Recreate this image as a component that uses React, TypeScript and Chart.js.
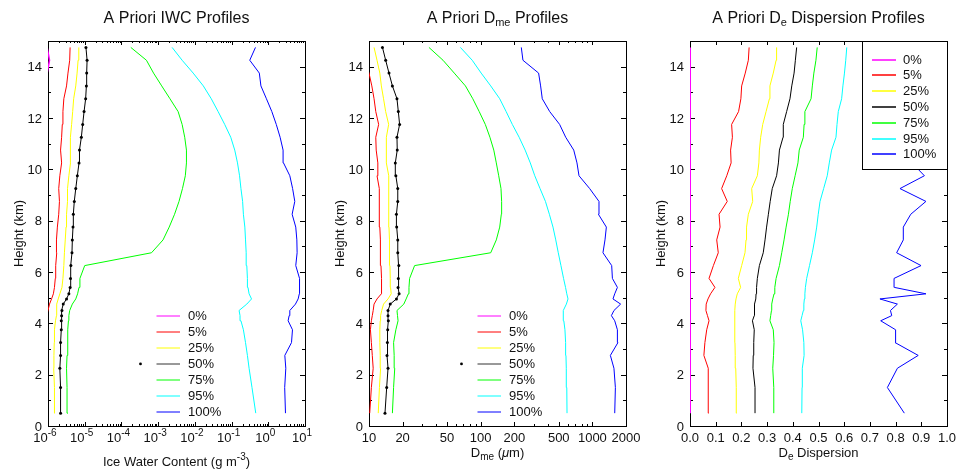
import React, { useEffect, useRef } from "react";
import { Chart, registerables } from "chart.js";

Chart.register(...registerables);

// ---------- data ----------
const HEIGHTS = [0.5, 1.5, 2.25, 2.75, 3.25, 3.75, 4.1, 4.3, 4.5, 4.75, 4.95, 5.15, 5.4, 5.75, 6.25, 6.75, 7.25, 7.75, 8.25, 8.75, 9.25, 9.75, 10.25, 10.75, 11.25, 11.75, 12.25, 12.75, 13.25, 13.75, 14.25, 14.75];

const SERIES_LABELS = ["0%", "5%", "25%", "50%", "75%", "95%", "100%"];
const SERIES_COLORS = ["#ff00ff", "#ff0000", "#ffff00", "#000000", "#00ff00", "#00ffff", "#0000ff"];

// Ice water content (g m^-3)
const IWC_0 = [5e-7, 5e-7, 5e-7, 5e-7, 5e-7, 5e-7, 5e-7, 5e-7, 5e-7, 5e-7, 5e-7, 5e-7, 5e-7, 5e-7, 5e-7, 5e-7, 5e-7, 5e-7, 5e-7, 5e-7, 5e-7, 5e-7, 5e-7, 5e-7, 5e-7, 5e-7, 5e-7, 5e-7, 5e-7, 9.5e-7, 1.1e-6, 9.5e-7];
const IWC_5 = [8e-7, 8e-7, 8e-7, 8e-7, 8e-7, 8e-7, 8.5e-7, 9e-7, 1.0e-6, 1.1e-6, 1.25e-6, 1.4e-6, 1.5e-6, 1.58e-6, 1.62e-6, 1.73e-6, 1.7e-6, 1.8e-6, 1.96e-6, 2.05e-6, 1.96e-6, 2.1e-6, 2.35e-6, 2.2e-6, 2.35e-6, 2.45e-6, 2.55e-6, 2.7e-6, 3.2e-6, 3.5e-6, 3.9e-6, 4.0e-6];
const IWC_25 = [1.55e-6, 1.5e-6, 1.43e-6, 1.45e-6, 1.48e-6, 1.5e-6, 1.6e-6, 1.7e-6, 1.7e-6, 1.75e-6, 1.9e-6, 2.1e-6, 2.4e-6, 2.55e-6, 2.7e-6, 2.8e-6, 2.95e-6, 3.1e-6, 3.2e-6, 3.4e-6, 3.4e-6, 3.7e-6, 4.1e-6, 4.0e-6, 4.15e-6, 4.4e-6, 4.7e-6, 5.0e-6, 5.7e-6, 6.2e-6, 6.6e-6, 6.9e-6];
const IWC_50 = [2.2e-6, 2.2e-6, 2.1e-6, 2.2e-6, 2.2e-6, 2.3e-6, 2.3e-6, 2.35e-6, 2.4e-6, 2.6e-6, 3.2e-6, 3.7e-6, 4.0e-6, 4.1e-6, 4.2e-6, 4.5e-6, 4.6e-6, 4.8e-6, 4.9e-6, 5.2e-6, 5.7e-6, 6.3e-6, 7.0e-6, 7.2e-6, 8.1e-6, 8.8e-6, 9.6e-6, 1.06e-5, 1.11e-5, 1.13e-5, 1.16e-5, 1.08e-5];
const IWC_75 = [3.5e-6, 3.3e-6, 3.2e-6, 3.3e-6, 3.4e-6, 3.5e-6, 3.6e-6, 3.7e-6, 3.9e-6, 4.6e-6, 5.7e-6, 6.4e-6, 7.0e-6, 7.4e-6, 1.0e-5, 6.6e-4, 1.36e-3, 2.0e-3, 2.8e-3, 3.7e-3, 4.6e-3, 5.5e-3, 5.9e-3, 5.9e-3, 5.3e-3, 4.5e-3, 3.5e-3, 2.1e-3, 1.25e-3, 7.5e-4, 4.8e-4, 1.8e-4];
const IWC_95 = [0.456, 0.36, 0.3, 0.27, 0.24, 0.21, 0.18, 0.17, 0.16, 0.26, 0.35, 0.3, 0.28, 0.27, 0.26, 0.25, 0.24, 0.23, 0.21, 0.2, 0.18, 0.165, 0.145, 0.122, 0.095, 0.065, 0.043, 0.028, 0.017, 0.009, 0.0045, 0.0024];
const IWC_100 = [2.94, 2.8, 3.0, 2.82, 4.29, 4.56, 3.47, 3.7, 3.86, 5.5, 6.5, 7.0, 7.0, 7.2, 5.6, 6.1, 6.0, 5.6, 4.46, 5.27, 4.6, 3.86, 2.6, 2.53, 2.1, 1.65, 1.25, 0.89, 0.63, 0.57, 0.313, 0.448];

// Dme (micrometres)
const DME_0 = [5, 5, 5, 5, 5, 5, 5, 5, 5, 5, 5, 5, 5, 5, 5, 5, 5, 5, 5, 5, 5, 5, 5, 5, 5, 5, 5, 5, 5, 5, 5, 5];
const DME_5 = [10.15, 10.5, 10.9, 10.7, 10.5, 10.3, 10.5, 10.7, 10.9, 11.1, 11.8, 12.9, 13.0, 12.9, 12.8, 12.7, 12.6, 12.5, 12.4, 12.4, 12.3, 11.8, 12.0, 11.6, 11.5, 12.2, 11.5, 11.1, 10.6, 10.0, 9.0, 9.0];
const DME_25 = [12.1, 12.4, 12.7, 12.6, 12.5, 12.5, 12.6, 12.7, 13.0, 13.5, 14.8, 15.8, 15.6, 15.5, 15.4, 15.3, 15.2, 15.1, 15.1, 15.1, 15.1, 14.8, 14.3, 14.3, 14.3, 15.0, 14.1, 13.5, 12.9, 12.5, 11.8, 11.1];
const DME_50 = [13.9, 14.4, 14.8, 14.5, 14.6, 14.7, 14.9, 14.8, 14.8, 15.5, 17.6, 18.6, 18.2, 18.3, 18.5, 18.1, 18.1, 17.7, 17.6, 18.1, 18.1, 17.4, 17.2, 17.9, 17.8, 18.8, 18.3, 17.8, 16.2, 15.1, 14.1, 13.2];
const DME_75 = [16.2, 16.6, 17.0, 16.8, 16.6, 17.4, 18.2, 18.0, 17.8, 20.5, 21.5, 22.5, 22.8, 23.1, 25.6, 123, 138, 148, 153, 154, 152, 145, 138, 131, 121, 110, 97, 85, 73, 58, 46, 34.4];
const DME_95 = [593, 590, 584, 580, 576, 568, 555, 548, 550, 585, 605, 590, 575, 552, 523, 495, 470, 444, 412, 380, 340, 305, 278, 250, 221, 192, 169, 148, 123, 101, 84, 65.8];
const DME_100 = [1585, 1607, 1560, 1449, 1694, 1675, 1585, 1480, 1560, 1790, 1529, 1585, 1675, 1511, 1489, 1244, 1297, 1334, 1132, 1146, 946, 759, 728, 681, 577, 509, 415, 356, 344, 330, 239, 231];

// De dispersion
const DISP_0 = [0, 0, 0, 0, 0, 0, 0, 0, 0, 0, 0, 0, 0, 0, 0, 0, 0, 0, 0, 0, 0, 0, 0, 0, 0, 0, 0, 0, 0, 0, 0, 0];
const DISP_5 = [0.073, 0.071, 0.071, 0.054, 0.058, 0.065, 0.074, 0.068, 0.062, 0.063, 0.07, 0.08, 0.097, 0.074, 0.091, 0.11, 0.104, 0.117, 0.113, 0.145, 0.123, 0.143, 0.16, 0.158, 0.165, 0.162, 0.189, 0.198, 0.201, 0.215, 0.227, 0.23];
const DISP_25 = [0.182, 0.18, 0.178, 0.176, 0.175, 0.175, 0.173, 0.174, 0.175, 0.176, 0.179, 0.184, 0.197, 0.188, 0.201, 0.214, 0.218, 0.22, 0.227, 0.244, 0.24, 0.262, 0.268, 0.27, 0.275, 0.283, 0.296, 0.309, 0.311, 0.324, 0.335, 0.337];
const DISP_50 = [0.253, 0.253, 0.245, 0.246, 0.248, 0.25, 0.243, 0.25, 0.252, 0.25, 0.256, 0.257, 0.259, 0.262, 0.27, 0.285, 0.292, 0.298, 0.305, 0.312, 0.32, 0.337, 0.344, 0.348, 0.362, 0.363, 0.376, 0.389, 0.396, 0.405, 0.41, 0.415];
const DISP_75 = [0.326, 0.326, 0.322, 0.325, 0.327, 0.324, 0.311, 0.314, 0.317, 0.318, 0.322, 0.327, 0.33, 0.335, 0.348, 0.357, 0.366, 0.374, 0.383, 0.39, 0.398, 0.409, 0.42, 0.425, 0.441, 0.444, 0.447, 0.471, 0.476, 0.482, 0.49, 0.495];
const DISP_95 = [0.435, 0.436, 0.437, 0.444, 0.443, 0.438, 0.431, 0.436, 0.441, 0.443, 0.445, 0.447, 0.449, 0.454, 0.465, 0.476, 0.485, 0.493, 0.499, 0.506, 0.52, 0.534, 0.542, 0.551, 0.568, 0.572, 0.577, 0.59, 0.595, 0.601, 0.606, 0.61];
const DISP_100 = [0.834, 0.768, 0.807, 0.888, 0.798, 0.8, 0.742, 0.785, 0.78, 0.807, 0.739, 0.918, 0.795, 0.794, 0.899, 0.804, 0.83, 0.83, 0.859, 0.918, 0.817, 0.912, 0.864, null, null, null, null, null, null, null, null, null];

// ---------- ticks ----------
const Y_TICKS = [0, 2, 4, 6, 8, 10, 12, 14];
const Y_MINOR_TICKS = [1, 3, 5, 7, 9, 11, 13, 15];
const IWC_TICKS = [1e-6, 1e-5, 1e-4, 1e-3, 1e-2, 1e-1, 1, 10];
const IWC_TICK_EXPONENTS = ["-6", "-5", "-4", "-3", "-2", "-1", "0", "1"];
const DME_TICKS = [10, 20, 50, 100, 200, 500, 1000, 2000];
const DME_MINOR_TICKS = [30, 40, 60, 70, 80, 90, 300, 400, 600, 700, 800, 900];
const DISP_TICKS = [0, 0.1, 0.2, 0.3, 0.4, 0.5, 0.6, 0.7, 0.8, 0.9, 1.0];

const FONT = '"Liberation Sans", Arial, Helvetica, sans-serif';

type Part = { t: string; size: number; dy?: number; italic?: boolean };

function drawRich(ctx: CanvasRenderingContext2D, parts: Part[], x: number, y: number, align: string) {
  const widths = parts.map((p) => {
    ctx.font = `${p.italic ? "italic " : ""}${p.size}px ${FONT}`;
    return ctx.measureText(p.t).width;
  });
  const w = widths.reduce((a, b) => a + b, 0);
  let cx = align === "center" ? x - w / 2 : align === "right" ? x - w : x;
  ctx.textAlign = "left";
  ctx.textBaseline = "middle";
  parts.forEach((p, i) => {
    ctx.font = `${p.italic ? "italic " : ""}${p.size}px ${FONT}`;
    ctx.fillText(p.t, cx, y + (p.dy ?? 0));
    cx += widths[i];
  });
}

function iwcMinor(): number[] {
  const out: number[] = [];
  for (const d of [1e-6, 1e-5, 1e-4, 1e-3, 1e-2, 1e-1, 1]) {
    for (let m = 2; m <= 9; m++) out.push(m * d);
  }
  return out;
}

interface PanelCfg {
  xType: "logarithmic" | "linear";
  xMin: number;
  xMax: number;
  series: (number | null)[][];
  majorX: number[];
  minorX: number[];
  xLabels: Part[][];
  xLabelShift: number;
  xLabelY: number;
  title: Part[];
  xTitle: Part[];
  xTitleY: number;
  legend: "bottom" | "box";
  points50: boolean;
  edgeWidth0: number;
}

const PANELS: PanelCfg[] = [
  {
    xType: "logarithmic",
    xMin: 1e-6,
    xMax: 10,
    series: [IWC_0, IWC_5, IWC_25, IWC_50, IWC_75, IWC_95, IWC_100],
    majorX: IWC_TICKS,
    minorX: iwcMinor(),
    xLabels: IWC_TICK_EXPONENTS.map((e) => [
      { t: "10", size: 13 },
      { t: e, size: 10, dy: -5 },
    ]),
    xLabelShift: -3,
    xLabelY: 438,
    title: [{ t: "A Priori IWC Profiles", size: 16 }],
    xTitle: [
      { t: "Ice Water Content (g m", size: 13 },
      { t: "-3", size: 10, dy: -5 },
      { t: ")", size: 13 },
    ],
    xTitleY: 462,
    legend: "bottom",
    points50: true,
    edgeWidth0: 1.5,
  },
  {
    xType: "logarithmic",
    xMin: 10,
    xMax: 2000,
    series: [DME_0, DME_5, DME_25, DME_50, DME_75, DME_95, DME_100],
    majorX: DME_TICKS,
    minorX: DME_MINOR_TICKS,
    xLabels: DME_TICKS.map((v) => [{ t: String(v), size: 13 }]),
    xLabelShift: 0,
    xLabelY: 438,
    title: [
      { t: "A Priori D", size: 16 },
      { t: "me", size: 11, dy: 4 },
      { t: " Profiles", size: 16 },
    ],
    xTitle: [
      { t: "D", size: 13 },
      { t: "me", size: 10, dy: 4 },
      { t: " (", size: 13 },
      { t: "\u03bc", size: 13, italic: true },
      { t: "m)", size: 13 },
    ],
    xTitleY: 453,
    legend: "bottom",
    points50: true,
    edgeWidth0: 1,
  },
  {
    xType: "linear",
    xMin: 0,
    xMax: 1,
    series: [DISP_0, DISP_5, DISP_25, DISP_50, DISP_75, DISP_95, DISP_100],
    majorX: DISP_TICKS,
    minorX: [],
    xLabels: DISP_TICKS.map((v) => [{ t: v.toFixed(1), size: 13 }]),
    xLabelShift: 0,
    xLabelY: 438,
    title: [
      { t: "A Priori D", size: 16 },
      { t: "e", size: 11, dy: 4 },
      { t: " Dispersion Profiles", size: 16 },
    ],
    xTitle: [
      { t: "D", size: 13 },
      { t: "e", size: 10, dy: 4 },
      { t: " Dispersion", size: 13 },
    ],
    xTitleY: 453,
    legend: "box",
    points50: false,
    edgeWidth0: 2,
  },
];

const PANEL_LEFTS = [0, 321, 642];
const PANEL_WIDTHS = [321, 321, 315];
const H = 473;
const AREA_LEFT = 48;
const AREA_RIGHT = 305;
const AREA_TOP = 41;
const AREA_BOTTOM = 426;

function Panel({ cfg, left, width }: { cfg: PanelCfg; left: number; width: number }) {
  const ref = useRef<HTMLCanvasElement>(null);
  useEffect(() => {
    const canvas = ref.current!;
    const framePlugin = {
      id: "frame",
      beforeDatasetsDraw(chart: any) {
        const ctx: CanvasRenderingContext2D = chart.ctx;
        const a = chart.chartArea;
        const xs = chart.scales.x;
        const ys = chart.scales.y;
        ctx.save();
        ctx.fillStyle = "#111";
        ctx.strokeStyle = "#000";
        ctx.lineWidth = 1;
        // border
        ctx.strokeRect(a.left + 0.5, a.top + 0.5, a.right - a.left, a.bottom - a.top);
        // y ticks
        const yTick = (v: number, len: number) => {
          const py = Math.round(ys.getPixelForValue(v)) + 0.5;
          ctx.beginPath();
          ctx.moveTo(a.left, py);
          ctx.lineTo(a.left + len, py);
          ctx.moveTo(a.right, py);
          ctx.lineTo(a.right - len, py);
          ctx.stroke();
        };
        Y_TICKS.forEach((v) => yTick(v, 5));
        Y_MINOR_TICKS.forEach((v) => yTick(v, 3));
        // x ticks
        const xTick = (v: number, len: number) => {
          const px = Math.round(xs.getPixelForValue(v)) + 0.5;
          ctx.beginPath();
          ctx.moveTo(px, a.bottom);
          ctx.lineTo(px, a.bottom - len);
          ctx.moveTo(px, a.top);
          ctx.lineTo(px, a.top + len);
          ctx.stroke();
        };
        cfg.majorX.forEach((v) => xTick(v, 4));
        cfg.minorX.forEach((v) => xTick(v, 2));
        // y tick labels
        Y_TICKS.forEach((v) => {
          drawRich(ctx, [{ t: String(v), size: 13 }], a.left - 6, ys.getPixelForValue(v) + 1, "right");
        });
        // x tick labels
        cfg.majorX.forEach((v, i) => {
          drawRich(ctx, cfg.xLabels[i], xs.getPixelForValue(v) + cfg.xLabelShift, cfg.xLabelY, "center");
        });
        // titles
        const cx = (a.left + a.right) / 2;
        drawRich(ctx, cfg.title, cx, 18.5, "center");
        drawRich(ctx, cfg.xTitle, cx, cfg.xTitleY, "center");
        ctx.save();
        ctx.translate(19, (a.top + a.bottom) / 2);
        ctx.rotate(-Math.PI / 2);
        drawRich(ctx, [{ t: "Height (km)", size: 13 }], 0, 0, "center");
        ctx.restore();
        ctx.restore();
      },
      afterDatasetsDraw(chart: any) {
        const ctx: CanvasRenderingContext2D = chart.ctx;
        const a = chart.chartArea;
        ctx.save();
        ctx.lineWidth = 1;
        let y0: number, step: number, sx1: number, sx2: number, tx: number;
        const boxed = cfg.legend === "box";
        if (boxed) {
          const bx = 220;
          const by = 169;
          ctx.fillStyle = "#fff";
          ctx.fillRect(bx, a.top, a.right - bx, by - a.top);
          ctx.strokeStyle = "#000";
          ctx.strokeRect(bx + 0.5, a.top + 0.5, a.right - bx, by - a.top);
          y0 = 59.5;
          step = 15.8;
          sx1 = 230;
          sx2 = 254;
          tx = 261;
        } else {
          y0 = 315.8;
          step = 16.05;
          sx1 = 156.5;
          sx2 = 180;
          tx = 188;
        }
        SERIES_LABELS.forEach((lab, i) => {
          const y = y0 + i * step;
          const ly = Math.round(y);
          ctx.lineWidth = boxed ? 1.5 : 1;
          ctx.strokeStyle = i === 3 && !boxed ? "#333" : SERIES_COLORS[i];
          ctx.beginPath();
          ctx.moveTo(sx1, ly);
          ctx.lineTo(sx2, ly);
          ctx.stroke();
          ctx.fillStyle = "#111";
          drawRich(ctx, [{ t: lab, size: 13 }], tx, y + 0.5, "left");
          if (i === 3 && cfg.points50) {
            ctx.beginPath();
            ctx.arc(140.5, y, 1.4, 0, Math.PI * 2);
            ctx.fillStyle = "#000";
            ctx.fill();
          }
        });
        ctx.restore();
      },
    };

    const chart = new Chart(canvas, {
      type: "scatter",
      data: {
        datasets: cfg.series.map((vals, i) => ({
          label: SERIES_LABELS[i],
          data: HEIGHTS.map((h, j) => (vals[j] == null ? null : { x: vals[j] as number, y: h })).filter(
            (p) => p !== null
          ) as { x: number; y: number }[],
          showLine: true,
          borderColor: SERIES_COLORS[i],
          backgroundColor: SERIES_COLORS[i],
          borderWidth: i === 0 ? cfg.edgeWidth0 : 1,
          pointRadius: cfg.points50 && i === 3 ? 1.5 : 0,
          pointHoverRadius: 0,
          pointBorderWidth: 0,
        })),
      },
      options: {
        responsive: false,
        animation: false,
        indexAxis: "y",
        events: [],
        layout: {
          padding: {
            left: AREA_LEFT,
            right: width - AREA_RIGHT,
            top: AREA_TOP,
            bottom: H - AREA_BOTTOM,
          },
        },
        scales: {
          x: { type: cfg.xType, min: cfg.xMin, max: cfg.xMax, display: false },
          y: { type: "linear", min: 0, max: 15, display: false },
        },
        plugins: {
          legend: { display: false },
          tooltip: { enabled: false },
          title: { display: false },
        },
      } as any,
      plugins: [framePlugin],
    });
    return () => chart.destroy();
  }, [cfg, width]);

  return (
    <canvas
      ref={ref}
      width={width}
      height={H}
      style={{ position: "absolute", left, top: 0, width, height: H, display: "block" }}
    />
  );
}

export default function App() {
  return (
    <div style={{ position: "absolute", left: 0, top: 0, width: 957, height: H, background: "#fff", overflow: "hidden" }}>
      {PANELS.map((cfg, i) => (
        <Panel key={i} cfg={cfg} left={PANEL_LEFTS[i]} width={PANEL_WIDTHS[i]} />
      ))}
    </div>
  );
}
